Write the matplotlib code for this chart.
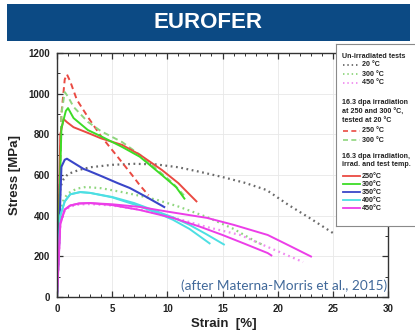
import matplotlib
matplotlib.use("Agg")
import matplotlib.pyplot as plt
from matplotlib.patches import Rectangle
from matplotlib.ticker import MultipleLocator

# ---------------- data ----------------
# Un-irradiated tests (dotted)
u20_strain = [0, 0.3, 0.6, 1.0, 2.0, 3.0, 5.0, 7.0, 9.0, 11.0, 13.0, 15.0, 17.0, 19.0, 21.0, 23.0, 25.0]
u20_stress = [0, 540, 580, 605, 625, 638, 650, 655, 652, 638, 615, 590, 562, 526, 452, 385, 315]
u300_strain = [0, 0.3, 0.6, 1.0, 1.8, 2.6, 4.0, 6.0, 8.0, 9.1, 11.0, 13.6, 16.0, 18.1, 18.6]
u300_stress = [0, 420, 480, 510, 533, 541, 535, 515, 492, 477, 445, 393, 335, 270, 258]
u450_strain = [0, 0.3, 0.7, 1.2, 2.0, 3.0, 5.0, 7.5, 10.5, 13.6, 16.6, 19.1, 22.3]
u450_stress = [0, 360, 425, 445, 455, 457, 450, 430, 392, 344, 305, 246, 172]

# 16.3 dpa irradiated at 250 / 300 C, tested at 20 C (dashed)
t250_strain = [0, 0.4, 0.7, 0.9, 1.2, 1.8, 2.8, 4.0, 5.5, 6.8, 7.5, 8.3]
t250_stress = [0, 900, 1070, 1095, 1060, 970, 885, 790, 689, 600, 550, 500]
t300_strain = [0, 0.4, 0.7, 1.0, 1.5, 2.8, 4.0, 5.9, 7.5, 9.0, 10.5, 11.5]
t300_stress = [0, 900, 1008, 985, 935, 861, 815, 762, 700, 630, 560, 500]

# 16.3 dpa, irradiation temperature = test temperature (solid)
s250_strain = [0, 0.3, 0.6, 0.9, 1.5, 2.8, 4.0, 5.9, 7.5, 9.5, 11.0, 12.0, 12.7]
s250_stress = [0, 800, 875, 860, 835, 807, 780, 748, 700, 625, 560, 505, 467]
s300_strain = [0, 0.4, 0.8, 1.0, 1.5, 2.8, 4.0, 5.9, 7.5, 9.5, 10.8, 11.6]
s300_stress = [0, 830, 915, 929, 880, 821, 790, 738, 690, 600, 540, 480]
s350_strain = [0, 0.4, 0.7, 0.9, 1.5, 2.4, 2.8, 4.0, 5.5, 6.6, 8.0, 9.8]
s350_stress = [0, 640, 675, 680, 660, 630, 622, 595, 560, 536, 495, 440]
s400a_strain = [0, 0.3, 0.7, 1.2, 2.1, 3.0, 5.0, 7.0, 9.0, 10.5, 12.0, 13.9]
s400a_stress = [0, 400, 470, 505, 516, 512, 490, 455, 415, 380, 335, 261]
s400b_strain = [0, 0.3, 0.7, 1.2, 2.1, 3.0, 5.0, 7.0, 9.0, 10.5, 12.0, 13.5, 15.2]
s400b_stress = [0, 400, 470, 505, 516, 512, 492, 462, 422, 392, 355, 310, 256]
s450a_strain = [0, 0.3, 0.7, 1.2, 2.0, 3.0, 5.0, 7.5, 10.0, 13.6, 16.0, 19.1, 21.0, 23.1]
s450a_stress = [0, 360, 430, 450, 460, 462, 456, 443, 420, 389, 355, 305, 254, 197]
s450b_strain = [0, 0.3, 0.7, 1.2, 2.0, 3.0, 5.0, 7.5, 10.5, 13.0, 15.0, 17.0, 19.1, 19.5]
s450b_stress = [0, 360, 430, 450, 460, 462, 452, 428, 389, 345, 305, 262, 216, 202]

x_ticks = [0, 5, 10, 15, 20, 25, 30]
y_ticks = [0, 200, 400, 600, 800, 1000, 1200]

title_text = "EUROFER"
x_label = "Strain  [%]"
y_label = "Stress [MPa]"
source_note = "(after Materna-Morris et al., 2015)"

legend_head1 = ["Un-irradiated tests"]
legend_unirr = ["20 \u00b0C", "300 \u00b0C", "450 \u00b0C"]
legend_head2 = ["16.3 dpa irradiation", "at 250 and 300 \u00b0C,", "tested at 20 \u00b0C"]
legend_tested = ["250 \u00b0C", "300 \u00b0C"]
legend_head3 = ["16.3 dpa irradiation,", "irrad. and test temp."]
legend_solid = ["250\u00b0C", "300\u00b0C", "350\u00b0C", "400\u00b0C", "450\u00b0C"]

# ---------------- styles ----------------
C_GRAY = "#6a6a6a"
C_LGREEN = "#8fd67e"
C_PINK = "#f08cf0"
C_RED = "#ea4a42"
C_GREEN = "#3ddc26"
C_BLUE = "#3a46c8"
C_CYAN = "#4ddfe3"
C_MAG = "#ec3ee8"
DOT = (0, (0.8, 1.6))
DASH = (0, (3, 2))

plt.rcParams["font.family"] = ["Liberation Sans", "DejaVu Sans"]

W, H = 415, 335
fig = plt.figure(figsize=(W / 100, H / 100), dpi=100)
fig.patch.set_facecolor("white")

def fx(px):
    return px / W

def fy(py):
    return 1 - py / H

# title banner
fig.patches.append(Rectangle((fx(7), fy(41)), fx(403), 37 / H, transform=fig.transFigure,
                             facecolor="#0c4a84", edgecolor="none", zorder=0))
fig.text(fx(208), fy(22.5), title_text, color="white", fontsize=16, fontweight="bold",
         ha="center", va="center")

# main axes
ax = fig.add_axes([fx(57), fy(297), fx(388 - 57), (297 - 53) / H])
ax.set_xlim(0, 30)
ax.set_ylim(0, 1200)

curves = [
    (u20_strain, u20_stress, C_GRAY, DOT, 1.6),
    (u300_strain, u300_stress, C_LGREEN, DOT, 1.6),
    (u450_strain, u450_stress, C_PINK, DOT, 1.6),
    (t250_strain, t250_stress, C_RED, DASH, 1.4),
    (t300_strain, t300_stress, C_LGREEN, DASH, 1.4),
    (s250_strain, s250_stress, C_RED, "-", 1.4),
    (s300_strain, s300_stress, C_GREEN, "-", 1.4),
    (s350_strain, s350_stress, C_BLUE, "-", 1.5),
    (s400a_strain, s400a_stress, C_CYAN, "-", 1.4),
    (s400b_strain, s400b_stress, C_CYAN, "-", 1.4),
    (s450a_strain, s450a_stress, C_MAG, "-", 1.4),
    (s450b_strain, s450b_stress, C_MAG, "-", 1.4),
]
for xs, ys, c, ls, lw in curves:
    ax.plot(xs, ys, color=c, linestyle=ls, linewidth=lw, solid_capstyle="butt")

ax.set_xticks(x_ticks)
ax.set_yticks(y_ticks)
ax.xaxis.set_minor_locator(MultipleLocator(1))
ax.yaxis.set_minor_locator(MultipleLocator(100))
ax.tick_params(which="both", direction="in", top=True, right=True, color="#333333")
ax.tick_params(which="major", length=4, width=0.9, labelsize=7, pad=5)
ax.tick_params(which="minor", length=2.2, width=0.7)
for lab in ax.get_xticklabels() + ax.get_yticklabels():
    lab.set_fontweight("bold")
    lab.set_color("#222222")
ax.grid(True, which="major", color="#e8e8e8", linewidth=0.6)
ax.set_axisbelow(True)
for sp in ax.spines.values():
    sp.set_color("#333333")
    sp.set_linewidth(1.0)

fig.text(fx(224), fy(324), x_label, fontsize=9.5, fontweight="bold", ha="center", va="center",
         color="#222222")
fig.text(fx(15), fy(175), y_label, fontsize=9.5, fontweight="bold", ha="center", va="center",
         rotation=90, color="#222222")
ax.text(0.998, 0.045, source_note, transform=ax.transAxes, ha="right", va="center",
        fontsize=9.8, color="#41699a", family=["Lato", "DejaVu Sans"])

# legend panel (pixel coordinates inside its own axes)
lg = fig.add_axes([fx(336), fy(226), fx(W - 336), (226 - 44) / H])
lg.set_xlim(336, W)
lg.set_ylim(226, 44)
lg.set_xticks([])
lg.set_yticks([])
lg.set_facecolor("white")
for name, sp in lg.spines.items():
    sp.set_color("#8a8a8a")
    sp.set_linewidth(0.8)
lg.spines["right"].set_visible(False)

FS = 5.1
x_txt = 342
def head(y, s):
    lg.text(x_txt, y, s, fontsize=FS, fontweight="bold", va="center", ha="left", color="#222222")

def entry(y, s, color, ls, lw):
    lg.plot([343, 360], [y, y], color=color, linestyle=ls, linewidth=lw)
    lg.text(361.5, y, s, fontsize=FS, fontweight="bold", va="center", ha="left", color="#222222")

head(56, legend_head1[0])
for y, s, c in zip([65, 74, 83], legend_unirr, [C_GRAY, C_LGREEN, C_PINK]):
    entry(y, s, c, DOT, 1.3)
for y, s in zip([103, 112, 121], legend_head2):
    head(y, s)
for y, s, c in zip([131, 140], legend_tested, [C_RED, C_LGREEN]):
    entry(y, s, c, DASH, 1.2)
for y, s in zip([156, 165], legend_head3):
    head(y, s)
for y, s, c in zip([176, 184, 192, 200, 208], legend_solid, [C_RED, C_GREEN, C_BLUE, C_CYAN, C_MAG]):
    entry(y, s, c, "-", 1.3)

fig.savefig("out.png", dpi=100, facecolor="white")
